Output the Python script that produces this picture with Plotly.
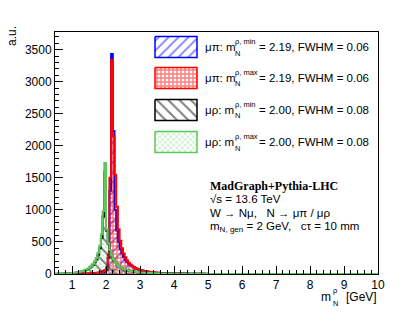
import numpy as np
import plotly.graph_objects as go

# ---------------- data ----------------
# bin edges: 0.05 GeV bins from 0.5 to 5.0, then one empty bin to 10
edges = list(np.round(np.arange(0.5, 5.0001, 0.05), 2)) + [10.0]

blue_mupi_min = [
    0, 0, 0, 1, 1, 1, 1, 2, 2, 2,
    2, 3, 3, 3, 4, 4, 5, 5, 6, 7,
    8, 9, 10, 12, 14, 16, 19, 23, 28, 36,
    60, 250, 1300, 3430, 2230, 1000, 680, 500, 390, 320,
    265, 220, 185, 158, 136, 118, 102, 88, 77, 67,
    60, 53, 47, 42, 37, 33, 30, 27, 24, 21,
    19, 17, 16, 15, 14, 13, 12, 11, 10, 9,
    9, 8, 8, 7, 7, 6, 6, 6, 5, 5,
    5, 4, 4, 4, 3, 3, 3, 3, 2, 2,
    0]
red_mupi_max = [
    0, 0, 0, 1, 1, 1, 2, 2, 2, 3,
    3, 4, 4, 5, 5, 6, 7, 8, 9, 10,
    11, 13, 15, 17, 20, 24, 29, 36, 46, 62,
    100, 300, 1500, 3340, 2150, 1550, 1050, 700, 520, 400,
    320, 260, 210, 175, 150, 130, 110, 95, 80, 70,
    62, 55, 48, 43, 38, 34, 30, 27, 24, 22,
    20, 18, 16, 15, 14, 13, 12, 11, 10, 9,
    8, 8, 7, 7, 6, 6, 5, 5, 5, 4,
    4, 4, 3, 3, 3, 3, 3, 2, 2, 2,
    0]
black_murho_min = [
    2, 3, 4, 5, 6, 7, 8, 9, 10, 12,
    14, 16, 20, 24, 30, 36, 44, 53, 64, 78,
    96, 118, 146, 182, 228, 300, 400, 560, 900, 1600,
    680, 470, 360, 285, 228, 182, 148, 122, 103, 88,
    76, 66, 58, 52, 46, 41, 37, 33, 30, 27,
    25, 23, 21, 19, 17, 16, 15, 14, 13, 12,
    11, 10, 9, 9, 8, 8, 7, 7, 6, 6,
    5, 5, 5, 4, 4, 4, 4, 3, 3, 3,
    3, 3, 2, 2, 2, 2, 2, 2, 1, 1,
    0]
green_murho_max = [
    3, 4, 5, 6, 7, 8, 9, 10, 11, 13,
    15, 18, 22, 27, 33, 40, 48, 58, 70, 85,
    105, 130, 160, 200, 250, 330, 440, 620, 980, 1730,
    700, 480, 370, 290, 230, 185, 150, 125, 105, 90,
    78, 68, 60, 53, 47, 42, 38, 34, 31, 28,
    25, 23, 21, 19, 17, 16, 15, 14, 13, 12,
    11, 10, 9, 9, 8, 8, 7, 7, 6, 6,
    5, 5, 5, 4, 4, 4, 4, 3, 3, 3,
    3, 3, 2, 2, 2, 2, 2, 2, 1, 1,
    0]

series_names = ["μπ min", "μπ max", "μρ min", "μρ max"]
legend_prefix = ["μπ: m", "μπ: m", "μρ: m", "μρ: m"]
legend_sup = ["ρ, min", "ρ, max", "ρ, min", "ρ, max"]
legend_rest = ["= 2.19, FWHM = 0.06", "= 2.19, FWHM = 0.06",
               "= 2.00, FWHM = 0.08", "= 2.00, FWHM = 0.08"]
series_values = [blue_mupi_min, red_mupi_max, black_murho_min, green_murho_max]

x_ticks = [1, 2, 3, 4, 5, 6, 7, 8, 9, 10]
y_ticks = [0, 500, 1000, 1500, 2000, 2500, 3000, 3500]

# ---------------- styles ----------------
colors = ["#0000ff", "#ff0000", "#000000", "#5cc85c"]
patterns = [
    dict(shape="/", size=7, solidity=0.25),
    dict(shape="+", size=4, solidity=0.6),
    dict(shape="\\", size=8, solidity=0.25),
    dict(shape="x", size=4, solidity=0.3),
]

W, H = 420, 315
L, R, T, B = 55, 378, 32, 274  # plot-area pixel box


def px(x):
    return (x - L) / (R - L)


def py(y):
    return (B - y) / (B - T)


FONT = "Liberation Sans, Arial, Helvetica, sans-serif"

fig = go.Figure()

for vals, col, pat, name in zip(series_values, colors, patterns, series_names):
    n = len(vals)
    xs = [edges[0]] + edges[:n] + [edges[n]]
    ys = [0] + list(vals) + [0]
    fig.add_trace(go.Scatter(
        x=xs, y=ys, mode="lines", line=dict(color=col, width=2, shape="hv"),
        fill="tozeroy", fillcolor="rgba(0,0,0,0)",
        fillpattern=dict(shape=pat["shape"], size=pat["size"], solidity=pat["solidity"],
                         fgcolor=col, bgcolor="rgba(0,0,0,0)", fillmode="overlay"),
        name=name, showlegend=False, hoverinfo="skip"))

# legend swatches on an overlay axis in pixel units
centers = [47, 78, 110, 142]
for yc, col, pat in zip(centers, colors, patterns):
    x0, x1 = 155, 197
    y0, y1 = yc - 10.5, yc + 10.5
    fig.add_trace(go.Scatter(
        x=[x0, x1, x1, x0, x0], y=[y0, y0, y1, y1, y0], xaxis="x2", yaxis="y2",
        mode="lines", line=dict(color=col, width=1.5), fill="toself",
        fillcolor="rgba(0,0,0,0)",
        fillpattern=dict(shape=pat["shape"], size=pat["size"], solidity=pat["solidity"],
                         fgcolor=col, bgcolor="rgba(0,0,0,0)", fillmode="overlay"),
        showlegend=False, hoverinfo="skip"))

ann = []


def text(x, y, s, size=11.5, anchor="left", family=FONT, **kw):
    ann.append(dict(x=px(x), y=py(y), xref="paper", yref="paper", text=s,
                    showarrow=False, xanchor=anchor, yanchor="middle",
                    font=dict(size=size, family=family, color="black"),
                    borderpad=0, **kw))


for yc, pre, sup, rest in zip(centers, legend_prefix, legend_sup, legend_rest):
    text(204, yc, pre)
    text(234, yc - 5.5, sup, size=7.5)
    text(233.5, yc + 6, "N", size=7.5)
    text(258, yc, rest)

text(209, 186, "<b>MadGraph+Pythia-LHC</b>", size=12,
     family="Liberation Serif, Times New Roman, serif")
text(209, 199, "√s = 13.6 TeV")
text(209, 213, "W → Nμ,   N → μπ / μρ")
text(209, 227, "m<sub>N, gen</sub> = 2 GeV,   cτ = 10 mm")

# axis titles
text(320, 297, "m", size=12)
text(332, 290.5, "ρ", size=7.5)
text(332, 303.5, "N", size=7.5)
text(378, 297, "[GeV]", size=12, anchor="right")
ann.append(dict(x=px(12), y=py(36), xref="paper", yref="paper", text="a.u.",
                showarrow=False, textangle=-90, xanchor="center", yanchor="middle",
                font=dict(size=12, family=FONT, color="black")))

fig.update_layout(
    width=W, height=H,
    margin=dict(l=L, r=W - R, t=T, b=H - B, pad=0),
    paper_bgcolor="white", plot_bgcolor="white",
    showlegend=False,
    annotations=ann,
    font=dict(family=FONT, size=12, color="black"),
    xaxis=dict(range=[0.5, 10], tickvals=x_ticks, ticktext=[str(v) for v in x_ticks],
               ticks="inside", ticklen=8, tickwidth=1, tickcolor="black",
               minor=dict(dtick=0.2, tick0=0, ticks="inside", ticklen=4, tickcolor="black"),
               showline=True, linecolor="black", linewidth=1, mirror=True,
               showgrid=False, zeroline=False, tickfont=dict(size=12)),
    yaxis=dict(range=[0, 3775], tickvals=y_ticks, ticktext=[str(v) for v in y_ticks],
               ticks="inside", ticklen=8, tickwidth=1, tickcolor="black",
               minor=dict(dtick=100, tick0=0, ticks="inside", ticklen=4, tickcolor="black"),
               showline=True, linecolor="black", linewidth=1, mirror=True,
               showgrid=False, zeroline=False, tickfont=dict(size=12)),
    xaxis2=dict(overlaying="x", range=[L, R], visible=False, fixedrange=True),
    yaxis2=dict(overlaying="y", range=[B, T], visible=False, fixedrange=True),
)

fig.write_html("out.html", config={"displayModeBar": False},
               post_script="document.body.style.margin='0';")
